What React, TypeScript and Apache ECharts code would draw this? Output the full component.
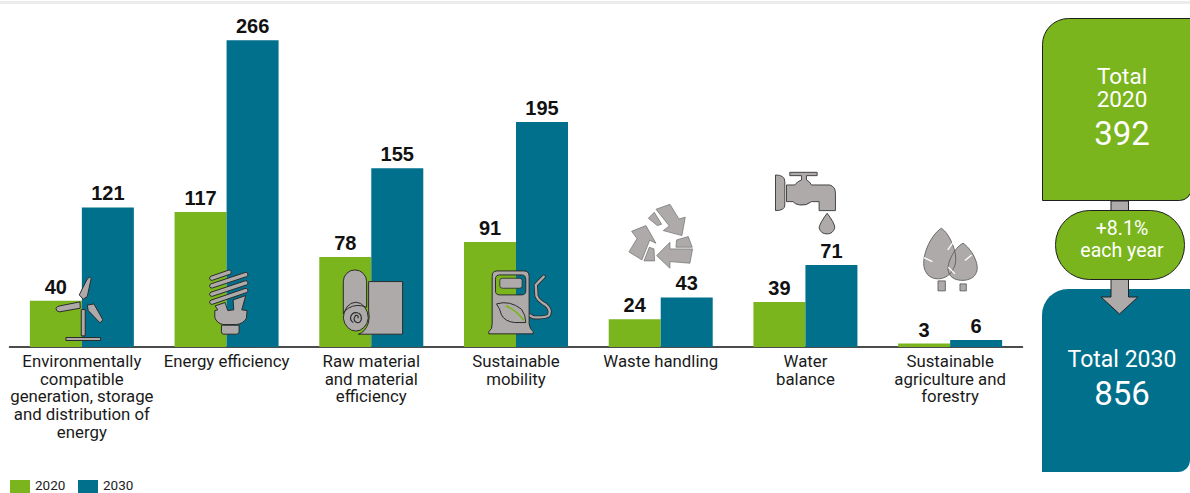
import React, { useEffect, useRef } from "react";
import * as echarts from "echarts";

const categories = [
  "Environmentally\ncompatible\ngeneration, storage\nand distribution of\nenergy",
  "Energy efficiency",
  "Raw material\nand material\nefficiency",
  "Sustainable\nmobility",
  "Waste handling",
  "Water\nbalance",
  "Sustainable\nagriculture and\nforestry",
];
const values2020 = [40, 117, 78, 91, 24, 39, 3];
const values2030 = [121, 266, 155, 195, 43, 71, 6];

const total2020 = "392";
const total2030 = "856";
const growthLines = "+8.1%\neach year";

const GREEN = "#7ab51d";
const BLUE = "#00708c";
const ICON = "#aeaaaa";
const OUTLINE = "#2b2b2b";
const SANS = "Roboto, sans-serif";

// Rounded bar between two points, used for the coils of the lamp.
const strip = (x1: number, y1: number, x2: number, y2: number, w: number) => {
  const dx = x2 - x1;
  const dy = y2 - y1;
  const l = Math.hypot(dx, dy);
  const nx = (-dy / l) * (w / 2);
  const ny = (dx / l) * (w / 2);
  const r = w / 2;
  return `M${x1 + nx} ${y1 + ny}L${x2 + nx} ${y2 + ny}A${r} ${r} 0 0 0 ${x2 - nx} ${y2 - ny}L${x1 - nx} ${y1 - ny}A${r} ${r} 0 0 0 ${x1 + nx} ${y1 + ny}Z`;
};

const iconPaths: Record<string, string> = {
  turbine:
    "M238 345L262 297Q270 288 274 295L262 350L250 358Z" +
    "M168 385Q170 380 180 378L240 366L241 385L178 396Q168 394 168 385Z" +
    "M262 376L282 372L309 420L300 429L265 392Z" +
    "M244 389L256 389L256 468L244 468Z" +
    "M198 473L302 473L302 482L198 482Z",
  lamp:
    strip(636, 295, 688, 277, 13) +
    strip(636, 318, 738, 284, 13) +
    strip(636, 343, 738, 309, 13) +
    strip(636, 367, 738, 332, 13) +
    "M646 378L676 368L684 392L702 390L700 360L738 347L726 390L742 392L740 415Q730 432 710 434L670 434Q650 430 645 412L645 392L654 390Z" +
    "M665 436L718 436L718 456Q718 463 710 463L672 463Q665 463 665 456Z",
  roll:
    "M70 372L70 275A35 35 0 0 1 140 275L140 352Q110 340 85 355Q74 362 70 372Z" +
    "M146 275L248 275L248 433L115 433Q135 428 145 400Q150 385 146 362Z" +
    "M70 385A36 46 0 0 1 145 385A38 46 0 0 1 70 385Z",
  rollCurl: "M100 398A16 16 0 1 1 124 385A11 11 0 1 1 105 380A5 5 0 1 1 113 385",
  pump:
    "M532 243L612 243Q628 243 628 259L628 402L632 416L640 425L640 432L507 432L507 425L515 416L517 402L517 259Q517 243 532 243Z" +
    "M540 255Q527 255 527 268L527 303Q527 315 540 315L605 315Q618 315 618 303L618 268Q618 255 605 255Z",
  pumpGauge: "M548 265L600 265Q607 265 607 272L607 288Q607 295 600 295L548 295Q540 295 540 288L540 272Q540 265 548 265Z",
  pumpLeaf: "M530 342Q570 330 605 358Q618 375 618 398L585 398Q555 395 545 375Q540 355 530 342Z",
  pumpVein: "M558 348Q590 360 612 392",
  hose: "M672 260L648 285L650 318Q655 332 678 345Q695 360 688 375Q680 385 640 382L622 372",
  recycle:
    "M138 148L180 133L207 177L226 172L216 227L160 212L178 198Z" +
    "M115 175L133 157L155 193L142 197Z" +
    "M65 214L108 197L138 250L119 241L96 300L57 276L81 236Z" +
    "M118 262L132 267L134 303L102 303Z" +
    "M140 287L180 247L180 267L248 267L240 310L180 305L180 325Z" +
    "M200 240L235 230L247 262L198 262Z",
  tap:
    "M497 45Q525 45 525 65L525 135Q525 152 497 152Z" +
    "M540 37L622 37L622 47L590 47L590 60Q600 64 605 75L660 75Q677 80 677 100L677 152L628 152L628 125L605 125Q590 138 570 135Q555 133 550 125L530 125L530 75L555 75Q562 64 575 60L575 47L540 47Z" +
    "M652 160Q675 190 675 203Q670 222 652 222Q632 222 628 203Q630 190 652 160Z",
  trees:
    "M995 205C1020 220 1052 290 1032 325C1015 365 962 366 948 335C928 300 962 225 995 205Z" +
    "M985 363L1007 363L1007 393L985 393Z" +
    "M1060 250C1085 265 1112 315 1100 338C1090 368 1030 370 1018 340C1006 315 1035 262 1060 250Z" +
    "M1051 372L1070 372L1070 393L1051 393Z",
  treeVeins: "M1032 245L1014 270M943 293L968 305M1086 285L1066 302M1016 322L1036 342",
};

Object.entries(iconPaths).forEach(([name, d]) => {
  echarts.graphic.registerShape(name, echarts.graphic.extendPath(d, {}));
});

// Places a path traced on a 3x grid at its spot on the canvas.
const icon = (
  type: string,
  ox: number,
  oy: number,
  style: Record<string, unknown> = {},
  z = 100,
) => ({
  type,
  x: ox,
  y: oy,
  scaleX: 1 / 3,
  scaleY: 1 / 3,
  z,
  silent: true,
  style: { fill: ICON, stroke: OUTLINE, lineWidth: 3, ...style },
});

const centeredText = (text: string, y: number, fontSize: number, lineHeight?: number) => ({
  type: "text",
  x: 1122,
  y,
  z: 120,
  silent: true,
  style: {
    text,
    fill: "#ffffff",
    font: `${fontSize}px ${SANS}`,
    fontSize,
    fontFamily: SANS,
    lineHeight: lineHeight ?? fontSize,
    align: "center",
    verticalAlign: "middle",
  },
});

// Legend captions sit a little above the centre of their swatches.
const legendCaption = (text: string, x: number) => ({
  type: "text",
  x,
  y: 485,
  z: 120,
  silent: true,
  style: {
    text,
    fill: "#222222",
    font: `13.5px ${SANS}`,
    fontSize: 13.5,
    fontFamily: SANS,
    align: "left",
    verticalAlign: "middle",
  },
});

const App = () => {
  const ref = useRef<HTMLDivElement>(null);

  useEffect(() => {
    const chart = echarts.init(ref.current!, undefined, { renderer: "svg" });
    const valueLabel = {
      show: true,
      position: "top" as const,
      distance: 4,
      color: "#111111",
      fontFamily: "'Liberation Sans', Arial, sans-serif",
      fontWeight: "bold" as const,
      fontSize: 20,
    };
    chart.setOption({
      animation: false,
      grid: { left: 9.5, top: 24, width: 1013, height: 323, containLabel: false },
      legend: {
        left: 10,
        top: 480,
        padding: 0,
        itemWidth: 20,
        itemHeight: 13,
        itemGap: 48,
        icon: "rect",
        selectedMode: false,
        data: ["2020", "2030"],
        formatter: () => "",
      },
      xAxis: {
        type: "category",
        data: categories,
        axisTick: { show: false },
        axisLine: { lineStyle: { color: "#111111", width: 1.5 } },
        axisLabel: {
          interval: 0,
          margin: 5,
          color: "#1a1a1a",
          fontFamily: SANS,
          fontSize: 16.8,
          lineHeight: 17.7,
          verticalAlign: "top",
        },
      },
      yAxis: { type: "value", min: 0, max: 280, show: false, splitLine: { show: false } },
      series: [
        {
          name: "2020",
          type: "bar",
          data: values2020,
          barWidth: 52,
          barGap: 0,
          itemStyle: { color: GREEN },
          label: valueLabel,
        },
        {
          name: "2030",
          type: "bar",
          data: values2030,
          barWidth: 52,
          itemStyle: { color: BLUE },
          label: valueLabel,
        },
      ],
      graphic: {
        elements: [
          // Rule along the top edge of the page
          { type: "rect", z: 100, silent: true, shape: { x: 0, y: 1, width: 1190, height: 3 }, style: { fill: "#ececec" } },

          legendCaption("2020", 35),
          legendCaption("2030", 103),

          icon("turbine", 0, 180),
          icon("lamp", 0, 180),
          icon("roll", 320, 190),
          icon("rollCurl", 320, 190, { fill: "none", lineWidth: 3.5 }, 101),
          icon("pump", 320, 190),
          icon("pumpGauge", 320, 190, { lineWidth: 2.5 }, 101),
          icon("pumpLeaf", 320, 190, { lineWidth: 3 }, 101),
          icon("pumpVein", 320, 190, { fill: "none", stroke: GREEN, lineWidth: 5 }, 102),
          icon("hose", 320, 190, { fill: "none", stroke: OUTLINE, lineWidth: 12, lineCap: "round" }, 99),
          icon("hose", 320, 190, { fill: "none", stroke: ICON, lineWidth: 7, lineCap: "round" }, 99.5),
          icon("recycle", 610, 160, { stroke: "#6a6a6a", lineWidth: 2 }),
          icon("tap", 610, 160, { stroke: "#444444" }),
          icon("trees", 610, 160, { stroke: "#555555", lineWidth: 2.5 }),
          icon("treeVeins", 610, 160, { fill: "none", stroke: "#ffffff", lineWidth: 4 }, 101),

          // Flow arrow between the two totals
          {
            type: "polygon",
            z: 108,
            silent: true,
            shape: {
              points: [
                [1111, 201],
                [1128.5, 201],
                [1128.5, 297],
                [1138, 297],
                [1119.5, 314],
                [1101, 297],
                [1111, 297],
              ],
            },
            style: { fill: ICON, stroke: "#222222", lineWidth: 1 },
          },
          {
            type: "rect",
            z: 105,
            silent: true,
            shape: { x: 1042.5, y: 18.5, width: 149, height: 182, r: [26, 0, 12, 0] },
            style: { fill: GREEN, stroke: "#1f1f1f", lineWidth: 1 },
          },
          {
            type: "rect",
            z: 105,
            silent: true,
            shape: { x: 1042, y: 289, width: 148, height: 183, r: [26, 0, 12, 0] },
            style: { fill: BLUE },
          },
          {
            type: "rect",
            z: 110,
            silent: true,
            shape: { x: 1055.5, y: 210.5, width: 129, height: 69, r: 34 },
            style: { fill: GREEN, stroke: "#1f1f1f", lineWidth: 1 },
          },
          centeredText("Total\n2020", 87, 22.5, 23),
          centeredText(total2020, 133, 33),
          centeredText(growthLines, 239, 19.5, 22),
          centeredText("Total 2030", 359, 23),
          centeredText(total2030, 393, 33),
        ],
      },
    });
    return () => chart.dispose();
  }, []);

  return (
    <div
      ref={ref}
      style={{ position: "absolute", left: 0, top: 0, width: 1190, height: 493, background: "#ffffff" }}
    />
  );
};

export default App;
